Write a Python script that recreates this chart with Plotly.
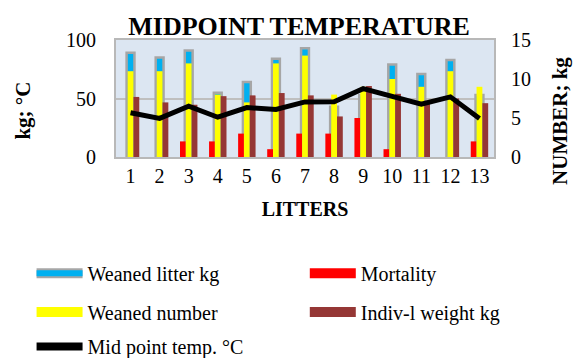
import plotly.graph_objects as go

litters = [str(i) for i in range(1, 14)]
weaned_litter_kg = [89, 85, 91, 55, 64, 84, 93, 43, 53, 79, 71, 83, 53]
mortality = [0, 0, 2, 2, 3, 1, 3, 3, 5, 1, 0, 0, 2]
weaned_number = [11, 11, 12, 8, 7, 12, 13, 8, 9, 10, 9, 11, 9]
indiv_weight_kg = [7.7, 7.0, 6.7, 7.8, 7.9, 8.2, 7.9, 5.2, 9.1, 8.1, 7.2, 7.5, 6.9]
mid_point_temp = [37.8, 33.0, 43.5, 34.0, 42.3, 40.6, 47.1, 47.3, 58.4, 51.4, 45.1, 51.4, 33.0]

FONT = "Liberation Serif"
BLUE = "#00b0f0"
GREY = "#a6a6a6"
YELLOW = "#ffff00"
RED = "#ff0000"
BROWN = "#953735"

fig = go.Figure()

# Weaned litter weight on the left (kg) axis
fig.add_trace(go.Bar(
    x=litters, y=weaned_litter_kg, yaxis="y",
    offset=-0.135, width=0.27,
    marker=dict(color=BLUE, line=dict(color=GREY, width=2.5)),
    showlegend=False,
))
# Count / weight series on the right axis
fig.add_trace(go.Bar(
    x=litters, y=mortality, yaxis="y2",
    offset=-0.3, width=0.2,
    marker=dict(color=RED, line=dict(width=0)), showlegend=False,
))
fig.add_trace(go.Bar(
    x=litters, y=weaned_number, yaxis="y2",
    offset=-0.1, width=0.2,
    marker=dict(color=YELLOW, line=dict(width=0)), showlegend=False,
))
fig.add_trace(go.Bar(
    x=litters, y=indiv_weight_kg, yaxis="y2",
    offset=0.1, width=0.2,
    marker=dict(color=BROWN, line=dict(width=0)), showlegend=False,
))
# Temperature line, drawn above the bars on a twin of the left axis
fig.add_trace(go.Scatter(
    x=litters, y=mid_point_temp, yaxis="y3", mode="lines",
    line=dict(color="black", width=5), showlegend=False,
))

# Legend keys: one single-entry legend per slot of the 2-column key
def key(name, color, width, legend):
    fig.add_trace(go.Scatter(
        x=[None], y=[None], mode="lines", name=name,
        line=dict(color=color, width=width), legend=legend,
    ))

key("Weaned litter kg", GREY, 10, "legend")    # grey outline under the blue key
key("Weaned litter kg", BLUE, 6, "legend6")
key("Mortality", RED, 10, "legend2")
key("Weaned number", YELLOW, 10, "legend3")
key("Indiv-l weight kg", BROWN, 10, "legend4")
key("Mid point temp. °C", "black", 8, "legend5")

LEG_FONT = dict(family=FONT, size=20, color="black")


def leg(x, y, font=LEG_FONT):
    return dict(
        orientation="h", xref="container", yref="container",
        x=x, y=y, xanchor="left", yanchor="middle", itemwidth=46,
        font=font, bgcolor="rgba(0,0,0,0)",
    )


COL1, COL2 = 0.055, 0.531
ROW1, ROW2, ROW3 = 0.237, 0.1285, 0.032

fig.update_layout(
    width=574, height=358,
    margin=dict(l=116, r=80, t=40, b=201, autoexpand=False),
    paper_bgcolor="white", plot_bgcolor="#dce6f2",
    barmode="overlay",
    font=dict(family=FONT, size=20, color="black"),
    title=dict(
        text="<b>MIDPOINT TEMPERATURE</b>",
        x=0.521, xanchor="center", y=0.928, yanchor="middle",
        font=dict(family=FONT, size=26, color="black"),
    ),
    xaxis=dict(
        type="category", showgrid=False, ticks="",
        showline=True, linecolor="#b8b8b8", linewidth=2, mirror=True,
        tickfont=dict(family=FONT, size=20),
        title=dict(text="<b>LITTERS</b>", font=dict(family=FONT, size=20), standoff=16),
    ),
    yaxis=dict(
        range=[0, 100], tickvals=[0, 50, 100], showgrid=True,
        gridcolor="#bfbfbf", gridwidth=1.5,
        showline=True, linecolor="#b8b8b8", linewidth=2, mirror=True,
        zeroline=False, ticks="", ticklabelstandoff=14,
        tickfont=dict(family=FONT, size=20),
    ),
    yaxis2=dict(
        range=[0, 15], tickvals=[0, 5, 10, 15], overlaying="y", side="right",
        showgrid=False, zeroline=False, ticks="", ticklabelstandoff=16,
        tickfont=dict(family=FONT, size=20),
    ),
    yaxis3=dict(range=[0, 100], overlaying="y", visible=False),
    legend=leg(COL1, ROW1, dict(family=FONT, size=20, color="rgba(0,0,0,0)")),
    legend6=leg(COL1, ROW1),
    legend2=leg(COL2, ROW1),
    legend3=leg(COL1, ROW2),
    legend4=leg(COL2, ROW2),
    legend5=leg(COL1, ROW3),
    annotations=[
        dict(text="<b>kg; °C</b>", textangle=-90, xref="paper", yref="paper",
             x=-0.245, y=0.40, xanchor="center", yanchor="middle",
             showarrow=False, font=dict(family=FONT, size=21)),
        dict(text="<b>NUMBER; kg</b>", textangle=-90, xref="paper", yref="paper",
             x=1.175, y=0.31, xanchor="center", yanchor="middle",
             showarrow=False, font=dict(family=FONT, size=21)),
    ],
)

fig.write_html("out.html")
